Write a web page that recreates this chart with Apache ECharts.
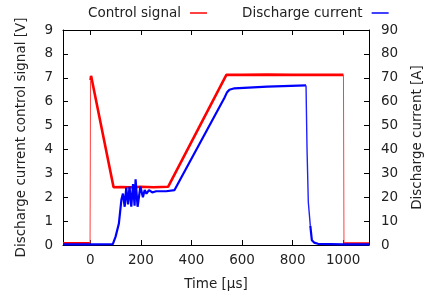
<!DOCTYPE html>
<html><head><meta charset="utf-8">
<script src="https://cdn.jsdelivr.net/npm/echarts@6/dist/echarts.min.js"></script>
<style>html,body{margin:0;padding:0;background:#fff}#c{width:427px;height:296px}</style>
</head><body><div id="c"></div>
<script>
// Tick labels
const timeTicks = [0, 200, 400, 600, 800, 1000];
// Control signal [V]
const ctrlTime  = [-108, -1,   1,   3,    92,   120,  160,  200,  250,  308,  538,  600,  700,  800,  900,  1001, 1003, 1102];
const ctrlVolts = [0.07, 0.07, 6.9, 7.08, 2.42, 2.43, 2.42, 2.44, 2.42, 2.44, 7.12, 7.12, 7.13, 7.12, 7.12, 7.12, 0.06, 0.06];
// Discharge current [A]
const currTime = [-108, 0,   89,  100, 113, 119, 123, 129,  136, 142, 149, 155,  162, 169,  175,  179,  187, 198,  208, 215, 222,  232, 245, 260,  300,  333, 530,  540,  550, 570,  700,  853,  857, 862, 870, 876, 885, 900, 1000, 1102];
const currAmps = [0.3,  0.3, 0.4, 3.5, 9,   15,  19,  21.5, 16,  24,  17,  24.5, 16,  25.5, 16.5, 27.5, 16,  24.5, 20,  23,  21.5, 23,  22,  22.5, 22.5, 23,  61.5, 63.8, 65,  65.6, 66.3, 66.8, 40,  18,  8,   2,   1,   0.5, 0.3,  0.3];
// segments (index i -> i+1) drawn as thin near-vertical jumps
const ctrlJumps = [1, 15];
const currJumps = [31, 32, 33];

function split(times, vals, jumps) {
  const thick = [], thin = [];
  for (let i = 0; i < times.length; i++) {
    thick.push([times[i], vals[i]]);
    if (jumps.includes(i)) {
      thick.push([times[i], null]);
      thin.push([times[i], vals[i]], [times[i + 1], vals[i + 1]]);
      if (!jumps.includes(i + 1)) thin.push([times[i + 1], null]);
    }
  }
  return {thick, thin};
}
const ctrlParts = split(ctrlTime, ctrlVolts, ctrlJumps);
const currParts = split(currTime, currAmps, currJumps);

const font = 'DejaVu Sans';
const fs = 13.5;
const txt = '#222';
const chart = echarts.init(document.getElementById('c'), null, {renderer: 'canvas'});

const axisLine = {show: true, onZero: false, lineStyle: {color: '#000', width: 1}};
const option = {
  animation: false,
  textStyle: {fontFamily: font},
  grid: {left: 63, right: 58, top: 30, bottom: 51, containLabel: false, outerBoundsMode: 'none'},
  legend: {
    top: 6, left: 88, padding: 0, itemGap: 35, itemWidth: 17, itemHeight: 1.5,
    icon: 'rect', align: 'right',
    textStyle: {fontFamily: font, fontSize: fs, color: txt, padding: [0, 4, 0, 0]},
    data: ['Control signal', 'Discharge current']
  },
  xAxis: [{
    type: 'value', min: -108, max: 1102, position: 'bottom',
    axisLine: axisLine,
    axisTick: {show: true, inside: true, length: 5, customValues: timeTicks, lineStyle: {color: '#000'}},
    axisLabel: {customValues: timeTicks, color: txt, fontSize: fs, fontFamily: font, margin: 8, formatter: v => String(v)},
    splitLine: {show: false},
    name: 'Time [µs]', nameLocation: 'middle', nameGap: 32,
    nameTextStyle: {fontFamily: font, fontSize: fs, color: txt}
  }, {
    type: 'value', min: -108, max: 1102, position: 'top',
    axisLine: axisLine,
    axisTick: {show: true, inside: true, length: 5, customValues: timeTicks, lineStyle: {color: '#000'}},
    axisLabel: {show: false},
    splitLine: {show: false}
  }],
  yAxis: [{
    type: 'value', min: 0, max: 9, interval: 1, position: 'left',
    axisLine: axisLine,
    axisTick: {show: true, inside: true, length: 5, lineStyle: {color: '#000'}},
    axisLabel: {color: txt, fontSize: fs, fontFamily: font, margin: 10},
    splitLine: {show: false},
    name: 'Discharge current control signal [V]', nameLocation: 'middle', nameGap: 35,
    nameTextStyle: {fontFamily: font, fontSize: fs, color: txt}
  }, {
    type: 'value', min: 0, max: 90, interval: 10, position: 'right',
    axisLine: axisLine,
    axisTick: {show: true, inside: true, length: 5, lineStyle: {color: '#000'}},
    axisLabel: {color: txt, fontSize: fs, fontFamily: font, margin: 12},
    splitLine: {show: false},
    name: 'Discharge current [A]', nameLocation: 'middle', nameGap: 41,
    nameTextStyle: {fontFamily: font, fontSize: fs, color: txt}
  }],
  series: [{
    name: 'Control signal', type: 'line', xAxisIndex: 0, yAxisIndex: 0,
    showSymbol: false, color: '#ff0000', connectNulls: false,
    lineStyle: {width: 2.6, color: '#ff0000'},
    data: ctrlParts.thick
  }, {
    name: 'Control signal', type: 'line', xAxisIndex: 0, yAxisIndex: 0,
    showSymbol: false, color: '#ff0000', connectNulls: false,
    lineStyle: {width: 1, color: '#ff4040'},
    data: ctrlParts.thin
  }, {
    name: 'Discharge current', type: 'line', xAxisIndex: 0, yAxisIndex: 1,
    showSymbol: false, color: '#0000ff', connectNulls: false,
    lineStyle: {width: 2.2, color: '#0000ff'},
    data: currParts.thick
  }, {
    name: 'Discharge current', type: 'line', xAxisIndex: 0, yAxisIndex: 1,
    showSymbol: false, color: '#0000ff', connectNulls: false,
    lineStyle: {width: 1.4, color: '#2020ff'},
    data: currParts.thin
  }]
};
chart.setOption(option);
</script></body></html>
